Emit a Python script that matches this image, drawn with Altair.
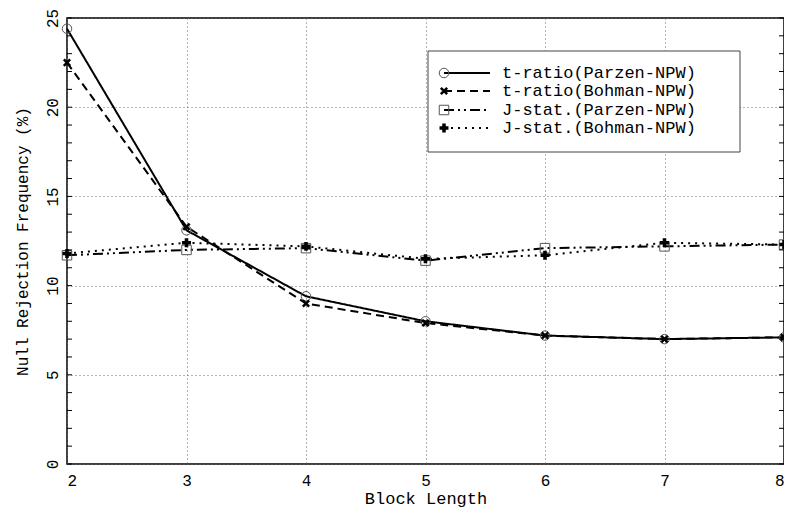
import altair as alt
import pandas as pd

block_length = [2, 3, 4, 5, 6, 7, 8]
series_names = ["t-ratio(Parzen-NPW)", "t-ratio(Bohman-NPW)",
                "J-stat.(Parzen-NPW)", "J-stat.(Bohman-NPW)"]
t_parzen = [24.4, 13.1, 9.4, 8.0, 7.2, 7.0, 7.1]
t_bohman = [22.5, 13.3, 9.0, 7.9, 7.2, 7.0, 7.1]
j_parzen = [11.7, 12.0, 12.1, 11.4, 12.1, 12.2, 12.3]
j_bohman = [11.8, 12.4, 12.2, 11.5, 11.7, 12.4, 12.3]
y_major = [0, 5, 10, 15, 20, 25]
y_minor = list(range(0, 26))

rows = []
for name, vals in zip(series_names, [t_parzen, t_bohman, j_parzen, j_bohman]):
    for b, v in zip(block_length, vals):
        rows.append({"series": name, "block": b, "freq": v})
df = pd.DataFrame(rows)

FONT = "Liberation Mono"
W, H = 717, 446
dashes = [[1, 0], [8, 5], [10, 4, 2, 4, 2, 4], [2, 5]]
X_PATH = "M-1,-1L1,1M-1,1L1,-1"
XT = "Block Length"
YT = "Null Rejection Frequency (%)"

xs = alt.Scale(domain=[2, 8], nice=False)
ys = alt.Scale(domain=[0, 25], nice=False)

grid_axis_x = alt.Axis(values=block_length, grid=True, gridDash=[1, 3], gridColor="#666",
                       gridWidth=1, ticks=False, domain=False, labelFont=FONT,
                       labelFontSize=16, labelColor="black", labelPadding=8,
                       titleFont=FONT, titleFontSize=17, titleFontWeight="normal",
                       titleColor="black", titlePadding=2, format="d", title=XT)
grid_axis_y = alt.Axis(values=y_major, grid=True, gridDash=[1, 3], gridColor="#666",
                       gridWidth=1, ticks=False, domain=False, labelFont=FONT,
                       labelFontSize=16, labelColor="black", labelAngle=270,
                       labelAlign="center", labelBaseline="bottom", labelPadding=7,
                       titleFont=FONT, titleFontSize=16, titleFontWeight="normal",
                       titleColor="black", titlePadding=14, title=YT)

X = alt.X("block:Q", scale=xs, axis=grid_axis_x, title=XT)
Y = alt.Y("freq:Q", scale=ys, axis=grid_axis_y, title=YT)

lines = alt.Chart(df).mark_line(strokeWidth=2, color="black").encode(
    x=X, y=Y,
    strokeDash=alt.StrokeDash("series:N", scale=alt.Scale(domain=series_names, range=dashes),
                              legend=None),
)

def pts(name, shape, filled, color, sw, size):
    return alt.Chart(df).transform_filter(alt.datum.series == name).mark_point(
        shape=shape, filled=filled, color=color, strokeWidth=sw, size=size, opacity=1
    ).encode(x=X, y=Y)

p1 = pts(series_names[0], "circle", False, "#555", 1, 90)
p2 = pts(series_names[1], X_PATH, False, "black", 2.5, 40)
p3 = pts(series_names[2], "square", False, "#555", 1, 90)
p4 = pts(series_names[3], "cross", True, "black", 1, 80)

tick_df = pd.DataFrame({"v": y_minor})
TY = alt.Y("v:Q", scale=ys, axis=grid_axis_y, title=YT)
ticks_left = alt.Chart(tick_df).mark_rule(color="black", strokeWidth=1).encode(
    y=TY, x=alt.value(0), x2=alt.value(5))
ticks_right = alt.Chart(tick_df).mark_rule(color="black", strokeWidth=1).encode(
    y=TY, x=alt.value(W - 5), x2=alt.value(W))

one = pd.DataFrame({"a": [0]})
legend_layers = [
    alt.Chart(one).mark_rect(fill="white", stroke="#444", strokeWidth=1).encode(
        x=alt.value(361), x2=alt.value(673), y=alt.value(33), y2=alt.value(134))
]
ly = [55, 73, 92, 110]
marks = [("circle", False, "#555", 1, 90), (X_PATH, False, "black", 2.5, 40),
         ("square", False, "#555", 1, 90), ("cross", True, "black", 1, 80)]
for i, name in enumerate(series_names):
    legend_layers.append(alt.Chart(one).mark_rule(color="black", strokeWidth=2,
                                                  strokeDash=dashes[i]).encode(
        x=alt.value(377), x2=alt.value(423), y=alt.value(ly[i])))
    shp, fl, col, sw, sz = marks[i]
    legend_layers.append(alt.Chart(one).mark_point(shape=shp, filled=fl, color=col,
                                                   strokeWidth=sw, size=sz, opacity=1).encode(
        x=alt.value(377), y=alt.value(ly[i])))
    legend_layers.append(alt.Chart(one).mark_text(text=name, font=FONT, fontSize=17,
                                                  align="left", baseline="middle",
                                                  color="black").encode(
        x=alt.value(435), y=alt.value(ly[i])))

chart = alt.layer(lines, p1, p2, p3, p4, ticks_left, ticks_right, *legend_layers).properties(
    width=W, height=H,
    autosize=alt.AutoSizeParams(type="none"),
    padding={"left": 59, "top": 10, "right": 0, "bottom": 46},
    background="white",
).configure_view(stroke="black", strokeWidth=1.5)

chart.save("out.html", embed_options={"renderer": "svg", "actions": False})
